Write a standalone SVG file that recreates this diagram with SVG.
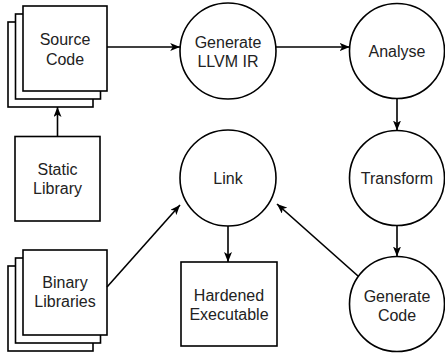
<svg xmlns="http://www.w3.org/2000/svg" width="445" height="358" viewBox="0 0 445 358">
<style>
.box{fill:#fff;stroke:#000;stroke-width:1.6}
.lbl{font-family:"Liberation Sans",Arial,sans-serif;font-size:16px;fill:#222;text-anchor:middle}
.edge{fill:none;stroke:#000;stroke-width:1.6}
</style>
<defs>
<marker id="arr" viewBox="0 0 10 8" markerWidth="10" markerHeight="8" refX="10" refY="4" orient="auto" markerUnits="userSpaceOnUse">
<path d="M0,0 L10,4 L0,8 L2.5,4 Z" fill="#000"/>
</marker>
</defs>
<rect width="445" height="358" fill="#fff"/>
<g id="source-code">
<rect class="box" x="8" y="22" width="85" height="85"/>
<rect class="box" x="15.5" y="14" width="85" height="85"/>
<rect class="box" x="23" y="6" width="84" height="85"/>
<text class="lbl" x="65" y="45">Source</text>
<text class="lbl" x="65" y="64.5">Code</text>
</g>
<g id="generate-llvm-ir">
<circle class="box" cx="228" cy="51" r="48"/>
<text class="lbl" x="228" y="48">Generate</text>
<text class="lbl" x="228" y="67">LLVM IR</text>
</g>
<g id="analyse">
<circle class="box" cx="397" cy="51" r="47.5"/>
<text class="lbl" x="397" y="57">Analyse</text>
</g>
<g id="static-library">
<rect class="box" x="15" y="136.5" width="85" height="84.5"/>
<text class="lbl" x="57.5" y="175">Static</text>
<text class="lbl" x="57.5" y="194">Library</text>
</g>
<g id="link">
<circle class="box" cx="228" cy="178" r="48"/>
<text class="lbl" x="228" y="183.5">Link</text>
</g>
<g id="transform">
<circle class="box" cx="397" cy="178" r="47.5"/>
<text class="lbl" x="397" y="184">Transform</text>
</g>
<g id="binary-libraries">
<rect class="box" x="8" y="266" width="85" height="85"/>
<rect class="box" x="15.5" y="258" width="85" height="85"/>
<rect class="box" x="23" y="250" width="84" height="85"/>
<text class="lbl" x="65" y="287.5">Binary</text>
<text class="lbl" x="65" y="306.5">Libraries</text>
</g>
<g id="hardened-executable">
<rect class="box" x="181" y="262" width="96" height="84"/>
<text class="lbl" x="229" y="300.5">Hardened</text>
<text class="lbl" x="229" y="319.5">Executable</text>
</g>
<g id="generate-code">
<circle class="box" cx="397" cy="304" r="47.5"/>
<text class="lbl" x="397" y="302">Generate</text>
<text class="lbl" x="397" y="321">Code</text>
</g>
<g id="connectors">
<path class="edge" marker-end="url(#arr)" d="M107,47 L180.2,47"/>
<path class="edge" marker-end="url(#arr)" d="M276,47 L349.7,47"/>
<path class="edge" marker-end="url(#arr)" d="M397,98.5 L397,130.5"/>
<path class="edge" marker-end="url(#arr)" d="M397,225.5 L397,256.5"/>
<path class="edge" marker-end="url(#arr)" d="M57.5,136.5 L57.5,107"/>
<path class="edge" marker-end="url(#arr)" d="M228,226 L228,262"/>
<path class="edge" marker-end="url(#arr)" d="M107,287 L180,205"/>
<path class="edge" marker-end="url(#arr)" d="M358,276 L277,204"/>
</g>
</svg>
